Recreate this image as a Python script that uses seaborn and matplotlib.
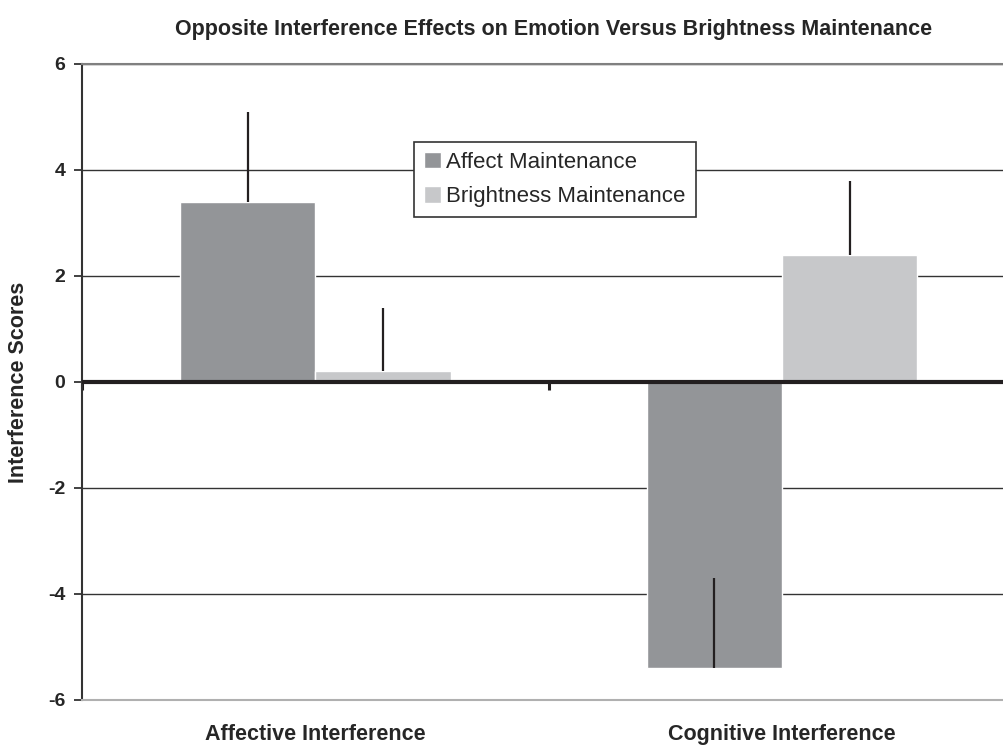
import numpy as np
import pandas as pd
import matplotlib
matplotlib.use("Agg")
import matplotlib.pyplot as plt
import seaborn as sns

# data
categories = ["Affective Interference", "Cognitive Interference"]
series = ["Affect Maintenance", "Brightness Maintenance"]
affect_vals = [3.4, -5.4]
bright_vals = [0.2, 2.4]
affect_err = [1.7, 1.7]
bright_err = [1.2, 1.4]
yticks = [-6, -4, -2, 0, 2, 4, 6]

colors = ["#939598", "#c7c8ca"]

df = pd.DataFrame({
    "category": categories * 2,
    "series": [series[0]] * 2 + [series[1]] * 2,
    "value": affect_vals + bright_vals,
})

sns.set_style("white")
plt.rcParams["font.family"] = ["Liberation Sans", "DejaVu Sans"]

fig = plt.figure(figsize=(10.04, 7.45), dpi=100)
ax = fig.add_axes([82 / 1004, 1 - 700 / 745, (1004 - 82) / 1004, (700 - 64) / 745])

sns.barplot(data=df, x="category", y="value", hue="series", palette=colors,
            width=0.58, saturation=1, ax=ax, errorbar=None, zorder=2)

# error bars, one-sided in the positive direction (as Excel drew them)
for cont, errs in zip(ax.containers, [affect_err, bright_err]):
    for bar, e in zip(cont, errs):
        xc = bar.get_x() + bar.get_width() / 2
        y = bar.get_y() + bar.get_height()
        ax.errorbar(xc, y, yerr=[[0], [e]], fmt="none", ecolor="#231f20",
                    elinewidth=1.6, capsize=0, zorder=3)

ax.set_xlim(-0.5, 1.476)
ax.set_ylim(-6, 6)
ax.set_yticks(yticks)
ax.set_yticklabels([str(t) for t in yticks], fontsize=14, fontweight="bold")
ax.tick_params(axis="y", direction="out", length=6, width=1.3, color="#333333", pad=6, left=True)
ax.tick_params(axis="x", length=0, pad=17)
for lbl in ax.get_xticklabels():
    lbl.set_fontsize(15.5)
    lbl.set_fontweight("bold")

ax.set_axisbelow(True)
ax.yaxis.grid(True, color="#333333", linewidth=1.0)

ax.spines["left"].set_color("#333333")
ax.spines["left"].set_linewidth(1.5)
ax.spines["top"].set_color("#808080")
ax.spines["top"].set_linewidth(1.5)
ax.spines["bottom"].set_color("#b0b0b0")
ax.spines["bottom"].set_linewidth(1.5)
ax.spines["right"].set_visible(False)

# thick zero line with small separator ticks between categories
ax.axhline(0, color="#231f20", linewidth=3, zorder=4)
sec = ax.secondary_xaxis(0.5)
sec.set_xticks([-0.5, 0.5, 1.5])
sec.set_xticklabels([])
sec.tick_params(direction="in", length=6, width=2.2, color="#231f20")
for s in sec.spines.values():
    s.set_visible(False)

ax.set_xlabel("")
ax.set_ylabel("Interference Scores", fontsize=15.5, fontweight="bold")
ax.yaxis.set_label_coords(-0.058, 0.5)

leg = ax.legend(loc="upper left", bbox_to_anchor=(414 / 1004, 1 - 142 / 745),
                bbox_transform=fig.transFigure, frameon=True, fancybox=False,
                framealpha=1, edgecolor="#333333", fontsize=16,
                handlelength=0.75, handleheight=0.75, handletextpad=0.25,
                borderpad=0.45, labelspacing=0.6, borderaxespad=0)
leg.get_frame().set_linewidth(1.2)

fig.text(0.551, 1 - 30 / 745,
         "Opposite Interference Effects on Emotion Versus Brightness Maintenance",
         ha="center", va="center", fontsize=15.5, fontweight="bold")

fig.savefig("out.png", dpi=100)
